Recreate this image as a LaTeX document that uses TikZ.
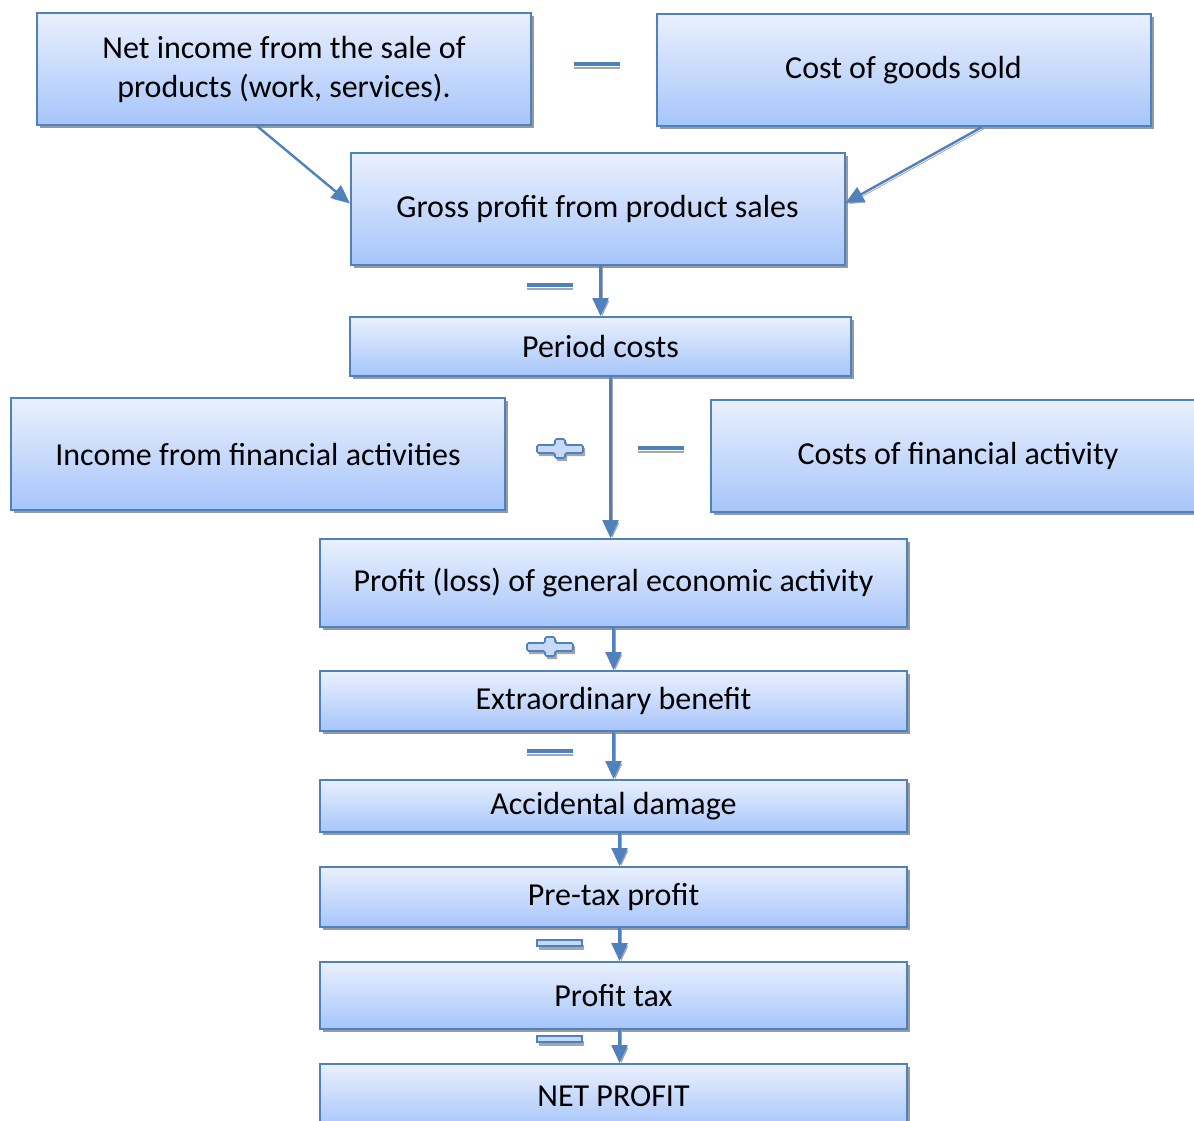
\documentclass[tikz,border=0pt]{standalone}
\usepackage{fontspec}
\setmainfont{Carlito}
\usetikzlibrary{arrows.meta,shadows,calc}
\definecolor{boxline}{RGB}{79,129,189}
\definecolor{boxtop}{RGB}{234,240,254}
\definecolor{boxbottom}{RGB}{166,197,250}
\definecolor{signfill}{RGB}{198,217,247}
\tikzset{
  stage/.style={draw=boxline, line width=1pt, top color=boxtop, bottom color=boxbottom,
    inner sep=0pt, align=center, font=\fontsize{16}{19.5}\selectfont,
    drop shadow={shadow xshift=1.5pt, shadow yshift=-1.5pt, fill=black!40, opacity=1}},
  wide/.style={stage, minimum width=247pt, minimum height=56pt},
  long/.style={stage, minimum width=293.5pt},
  arr/.style={draw=boxline, line width=1.2pt, -{Triangle[length=9pt,width=8pt]},
    preaction={draw=black!35, transform canvas={xshift=0.9pt,yshift=-0.9pt}}},
  minussign/.pic={
    \fill[black!35] (-23,2.5) rectangle (23,4.5);
    \fill[boxline] (-23,-2) rectangle (23,1.5);
  },
  minusbox/.pic={
    \fill[black!35] (-21,2) rectangle (24,7);
    \filldraw[draw=boxline, fill=signfill, line width=0.7pt] (-23,-3) rectangle (22,3);
  },
  plussign/.pic={
    \fill[black!35, shift={(2,3)}] (-23,-4) -- (-5,-4) -- (-5,-10) -- (5,-10) -- (5,-4) -- (23,-4)
      -- (23,4) -- (5,4) -- (5,9) -- (-5,9) -- (-5,4) -- (-23,4) -- cycle;
    \filldraw[draw=boxline, fill=signfill, line width=0.8pt, rounded corners=0.8pt]
      (-23,-4) -- (-5,-4) -- (-5,-10) -- (5,-10) -- (5,-4) -- (23,-4)
      -- (23,4) -- (5,4) -- (5,9) -- (-5,9) -- (-5,4) -- (-23,4) -- cycle;
  }
}
\begin{document}
\begin{tikzpicture}[x=0.5pt, y=-0.5pt]
  \useasboundingbox (0,0) rectangle (1194,1120);
  % top row
  \node[wide] (netinc) at (284,69) {Net income from the sale of\\products (work, services).};
  \node[wide] (cogs) at (903.5,70) {Cost of goods sold};
  \node[wide] (gross) at (597.5,209) {Gross profit from product sales};
  \node[stage, minimum width=250.5pt, minimum height=29.5pt] (period) at (600.5,346.5) {Period costs};
  % financial activity
  \node[wide] (finin) at (258,454) {Income from financial activities};
  \node[wide] (finout) at (958,455.5) {Costs of financial activity};
  % main column
  \node[long, minimum height=44pt] (general) at (613.5,583) {Profit (loss) of general economic activity};
  \node[long, minimum height=30pt] (extra) at (613.5,701) {Extraordinary benefit};
  \node[long, minimum height=26pt] (damage) at (613.5,806) {Accidental damage};
  \node[long, minimum height=30pt] (pretax) at (613.5,897) {Pre-tax profit};
  \node[long, minimum height=33.5pt] (tax) at (613.5,995.5) {Profit tax};
  \node[long, minimum height=32pt] (net) at (613.5,1096) {NET PROFIT};
  % signs
  \pic at (597,64) {minussign};
  \pic at (550,285) {minussign};
  \pic at (560,449) {plussign};
  \pic at (661,448) {minussign};
  \pic at (550,647) {plussign};
  \pic at (550,751) {minussign};
  \pic at (560,943) {minusbox};
  \pic at (560,1039) {minusbox};
  % connectors
  \draw[arr] ($(netinc.south)+(-27,0)$) -- ($(gross.west)+(0,-6)$);
  \draw[arr] ($(cogs.south)+(78.5,0)$) -- ($(gross.east)+(0,-6)$);
  \draw[arr] (gross.south -| period.north) -- (period.north);
  \draw[arr] ($(period.south)+(10,0)$) -- ($(general.north)+(-3,0)$);
  \draw[arr] (general.south) -- (extra.north);
  \draw[arr] (extra.south) -- (damage.north);
  \draw[arr] ($(damage.south)+(6,0)$) -- ($(pretax.north)+(6,0)$);
  \draw[arr] ($(pretax.south)+(6,0)$) -- ($(tax.north)+(6,0)$);
  \draw[arr] ($(tax.south)+(6,0)$) -- ($(net.north)+(6,0)$);
\end{tikzpicture}
\end{document}
